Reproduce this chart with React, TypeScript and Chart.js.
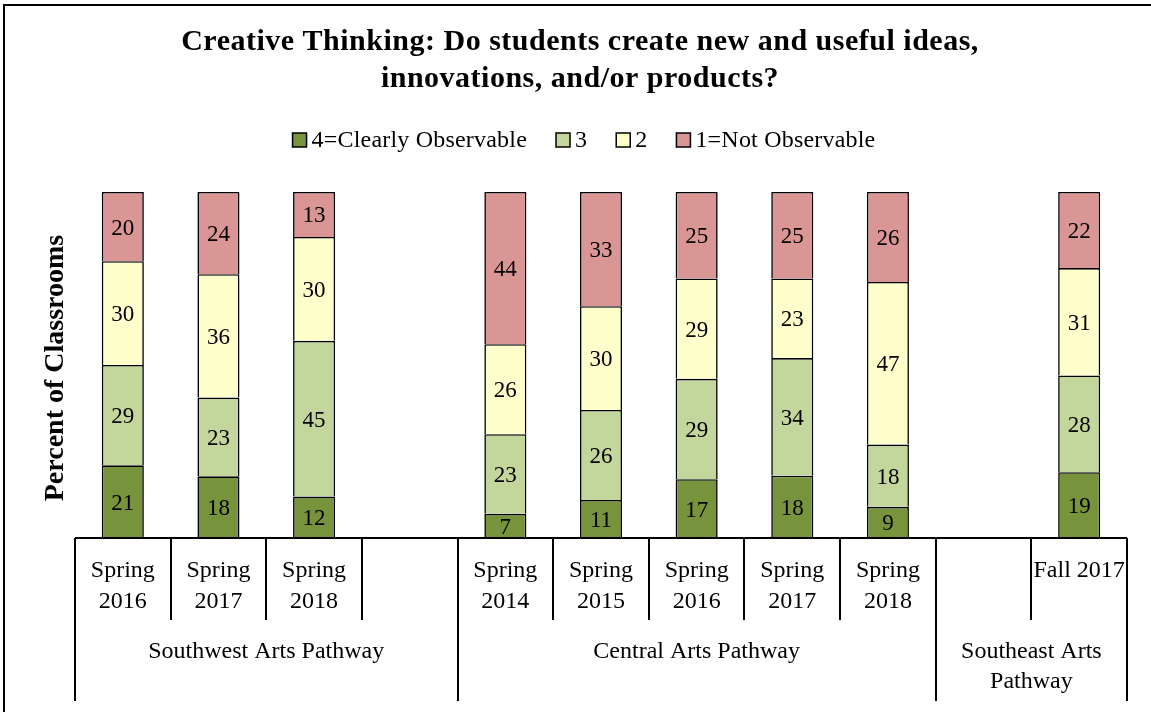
import React, { useEffect, useRef } from 'react';
import { Chart, registerables } from 'chart.js';

Chart.register(...registerables);

// ---- Data ----
const tickLabels: string[][] = [
  ['Spring', '2016'], ['Spring', '2017'], ['Spring', '2018'], [],
  ['Spring', '2014'], ['Spring', '2015'], ['Spring', '2016'], ['Spring', '2017'], ['Spring', '2018'], [],
  ['Fall 2017'],
];
const groupNames: string[][] = [['Southwest Arts Pathway'], ['Central Arts Pathway'], ['Southeast Arts', 'Pathway']];
const groupStarts = [0, 4, 9];
const groupEnds = [4, 9, 11];

const seriesNames = ['4=Clearly Observable', '3', '2', '1=Not Observable'];
const level4 = [21, 18, 12, null, 7, 11, 17, 18, 9, null, 19];
const level3 = [29, 23, 45, null, 23, 26, 29, 34, 18, null, 28];
const level2 = [30, 36, 30, null, 26, 30, 29, 23, 47, null, 31];
const level1 = [20, 24, 13, null, 44, 33, 25, 25, 26, null, 22];
const seriesColors = ['#77933C', '#C3D69B', '#FFFFCC', '#D99694'];

const titleLines = ['Creative Thinking: Do students create new and useful ideas,', 'innovations, and/or products?'];
const yTitle = 'Percent of Classrooms';

const SERIF = '"Liberation Serif", "Times New Roman", serif';

function setSpacing(ctx: any, px: number) {
  if ('letterSpacing' in ctx) ctx.letterSpacing = `${px}px`;
}

export default function App() {
  const ref = useRef<HTMLCanvasElement | null>(null);

  useEffect(() => {
    const canvas = ref.current;
    if (!canvas) return;
    const raw = [level4, level3, level2, level1];
    const totals = tickLabels.map((_, i) => raw.reduce((s, arr) => s + (arr[i] ?? 0), 0));
    const datasets = raw.map((arr, k) => ({
      label: seriesNames[k],
      data: arr.map((v, i) => (v == null ? null : (v / totals[i]) * 100)),
      rawValues: arr,
      backgroundColor: seriesColors[k],
      borderColor: '#000000',
      borderWidth: 1.6,
      barPercentage: 0.44,
      categoryPercentage: 1,
    }));

    const decor = {
      id: 'decor',
      beforeDraw(chart: any) {
        const { ctx, width, height } = chart;
        ctx.save();
        ctx.fillStyle = '#ffffff';
        ctx.fillRect(0, 0, width, height);
        ctx.strokeStyle = '#000';
        ctx.lineWidth = 2;
        ctx.strokeRect(4, 5, width + 20, height + 20);
        ctx.restore();
      },
      afterDatasetsDraw(chart: any) {
        const { ctx } = chart;
        ctx.save();
        ctx.fillStyle = '#000';
        ctx.font = `23px ${SERIF}`;
        ctx.textAlign = 'center';
        ctx.textBaseline = 'alphabetic';
        chart.data.datasets.forEach((ds: any, di: number) => {
          const meta = chart.getDatasetMeta(di);
          meta.data.forEach((el: any, i: number) => {
            const v = ds.rawValues[i];
            if (v == null) return;
            const yMid = (el.y + el.base) / 2;
            ctx.fillText(String(v), el.x, yMid + 8);
          });
        });
        ctx.restore();
      },
      afterDraw(chart: any) {
        const { ctx, chartArea } = chart;
        const { left, right, bottom } = chartArea;
        const n = tickLabels.length;
        const slot = (right - left) / n;
        ctx.save();
        ctx.fillStyle = '#000';
        ctx.strokeStyle = '#000';
        ctx.textBaseline = 'alphabetic';

        // Title
        ctx.font = `bold 30px ${SERIF}`;
        setSpacing(ctx, 0.5);
        ctx.textAlign = 'center';
        titleLines.forEach((t, i) => ctx.fillText(t, 580, 50 + i * 37));
        setSpacing(ctx, 0);

        // Legend
        ctx.font = `24px ${SERIF}`;
        setSpacing(ctx, 0.2);
        const box = 14, gapBox = 5, gapItem = 29;
        const widths = seriesNames.map((s) => ctx.measureText(s).width);
        const total = widths.reduce((s, w) => s + box + gapBox + w, 0) + gapItem * (seriesNames.length - 1);
        let x = 584 - total / 2;
        const ly = 147;
        ctx.textAlign = 'left';
        seriesNames.forEach((s, i) => {
          ctx.fillStyle = seriesColors[i];
          ctx.fillRect(x, ly - box, box, box);
          ctx.lineWidth = 1.5;
          ctx.strokeRect(x, ly - box, box, box);
          ctx.fillStyle = '#000';
          ctx.fillText(s, x + box + gapBox, ly);
          x += box + gapBox + widths[i] + gapItem;
        });
        setSpacing(ctx, 0);

        // Y title
        ctx.save();
        ctx.translate(63, 368);
        ctx.rotate(-Math.PI / 2);
        ctx.font = `bold 28px ${SERIF}`;
        ctx.textAlign = 'center';
        ctx.fillText(yTitle, 0, 0);
        ctx.restore();

        // Axis line
        ctx.lineWidth = 2;
        ctx.beginPath();
        ctx.moveTo(left, bottom);
        ctx.lineTo(right, bottom);
        ctx.stroke();

        // Separators
        const groupBounds = new Set([...groupStarts, ...groupEnds]);
        for (let k = 0; k <= n; k++) {
          const sx = Math.round(left + k * slot);
          ctx.beginPath();
          ctx.moveTo(sx, bottom);
          ctx.lineTo(sx, groupBounds.has(k) ? 701 : 620);
          ctx.stroke();
        }

        // Tick labels
        ctx.font = `24px ${SERIF}`;
        ctx.textAlign = 'center';
        const xs = chart.scales.x;
        tickLabels.forEach((lines, i) => {
          const cx = xs.getPixelForValue(i);
          lines.forEach((t, j) => ctx.fillText(t, cx, 577 + j * 31));
        });

        // Group labels
        groupNames.forEach((lines, g) => {
          const cx = left + ((groupStarts[g] + groupEnds[g]) / 2) * slot;
          lines.forEach((t, j) => ctx.fillText(t, cx, 658 + j * 30));
        });
        ctx.restore();
      },
    };

    const chart = new Chart(canvas, {
      type: 'bar',
      data: { labels: tickLabels.map((l) => l.join(' ')), datasets: datasets as any },
      options: {
        animation: false,
        responsive: false,
        maintainAspectRatio: false,
        layout: { padding: { left: 75, right: 24, top: 192, bottom: 174 } },
        plugins: { legend: { display: false }, title: { display: false }, tooltip: { enabled: false } },
        scales: {
          x: { stacked: true, display: false },
          y: { stacked: true, display: false, min: 0, max: 100 },
        },
      },
      plugins: [decor],
    });
    return () => chart.destroy();
  }, []);

  return (
    <div style={{ position: 'fixed', left: 0, top: 0, width: 1151, height: 712, background: '#fff' }}>
      <canvas ref={ref} width={1151} height={712} style={{ display: 'block', width: 1151, height: 712 }} />
    </div>
  );
}
